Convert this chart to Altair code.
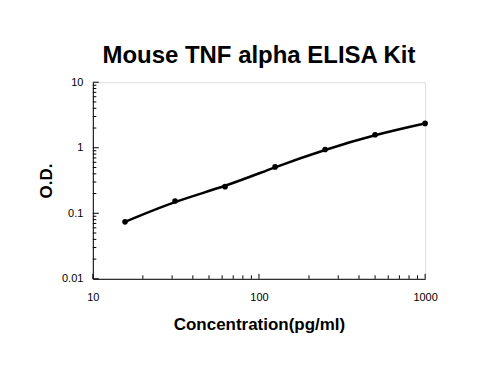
import altair as alt
import pandas as pd

conc = [15.625, 31.25, 62.5, 125, 250, 500, 1000]
od = [0.074, 0.154, 0.255, 0.51, 0.94, 1.58, 2.35]

y_major = [0.01, 0.1, 1, 10]
y_minor = [0.02, 0.03, 0.04, 0.05, 0.06, 0.07, 0.08, 0.09,
           0.2, 0.3, 0.4, 0.5, 0.6, 0.7, 0.8, 0.9,
           2, 3, 4, 5, 6, 7, 8, 9]
x_major = [10, 100, 1000]
x_minor = [20, 30, 40, 50, 60, 70, 80, 90,
           200, 300, 400, 500, 600, 700, 800, 900]

W, H = 333, 197
FONT = "Liberation Sans"

df = pd.DataFrame({"conc": conc, "od": od})

xs = alt.Scale(type="log", domain=[10, 1000])
ys = alt.Scale(type="log", domain=[0.01, 10])

x_axis = alt.Axis(values=x_major, format="~g", ticks=False, grid=False,
                  labelFlush=False,
                  domainColor="black", labelFont=FONT, labelFontSize=11,
                  labelColor="black", labelPadding=13,
                  title="Concentration(pg/ml)", titleFont=FONT,
                  titleFontSize=17, titleFontWeight="bold", titleColor="black",
                  titlePadding=14)
y_axis = alt.Axis(values=y_major, format="~g", ticks=False, grid=False,
                  labelFlush=False,
                  domainColor="black", labelFont=FONT, labelFontSize=11,
                  labelColor="black", labelPadding=10,
                  title="O.D.", titleFont=FONT, titleFontSize=17,
                  titleFontWeight="bold", titleColor="black", titlePadding=6)

line = alt.Chart(df).mark_line(color="black", strokeWidth=2.5,
                               interpolate="basis").encode(
    x=alt.X("conc:Q", scale=xs, axis=x_axis),
    y=alt.Y("od:Q", scale=ys, axis=y_axis),
)
pts = alt.Chart(df).mark_circle(color="black", opacity=1, size=32).encode(
    x=alt.X("conc:Q", scale=xs),
    y=alt.Y("od:Q", scale=ys),
)

def yticks(vals, length):
    d = pd.DataFrame({"v": vals})
    return alt.Chart(d).mark_rule(color="black", strokeWidth=1).encode(
        y=alt.Y("v:Q", scale=ys),
        x=alt.value(0), x2=alt.value(length))

def xticks(vals, length):
    d = pd.DataFrame({"v": vals})
    return alt.Chart(d).mark_rule(color="black", strokeWidth=1).encode(
        x=alt.X("v:Q", scale=xs),
        y=alt.value(H), y2=alt.value(H - length))

chart = alt.layer(
    yticks(y_major, 6), yticks(y_minor, 3.5),
    xticks(x_major, 5), xticks(x_minor, 3.5),
    line, pts,
).properties(
    width=W, height=H,
    title=alt.TitleParams("Mouse TNF alpha ELISA Kit", font=FONT,
                          fontSize=24, fontWeight="bold", color="black",
                          anchor="middle", offset=8),
    autosize=alt.AutoSizeParams(type="none"),
    padding={"left": 85, "top": 74, "right": 60, "bottom": 90},
).configure_view(stroke=None).configure(background="white")

chart.save("out.html", embed_options={"renderer": "svg", "actions": False})
